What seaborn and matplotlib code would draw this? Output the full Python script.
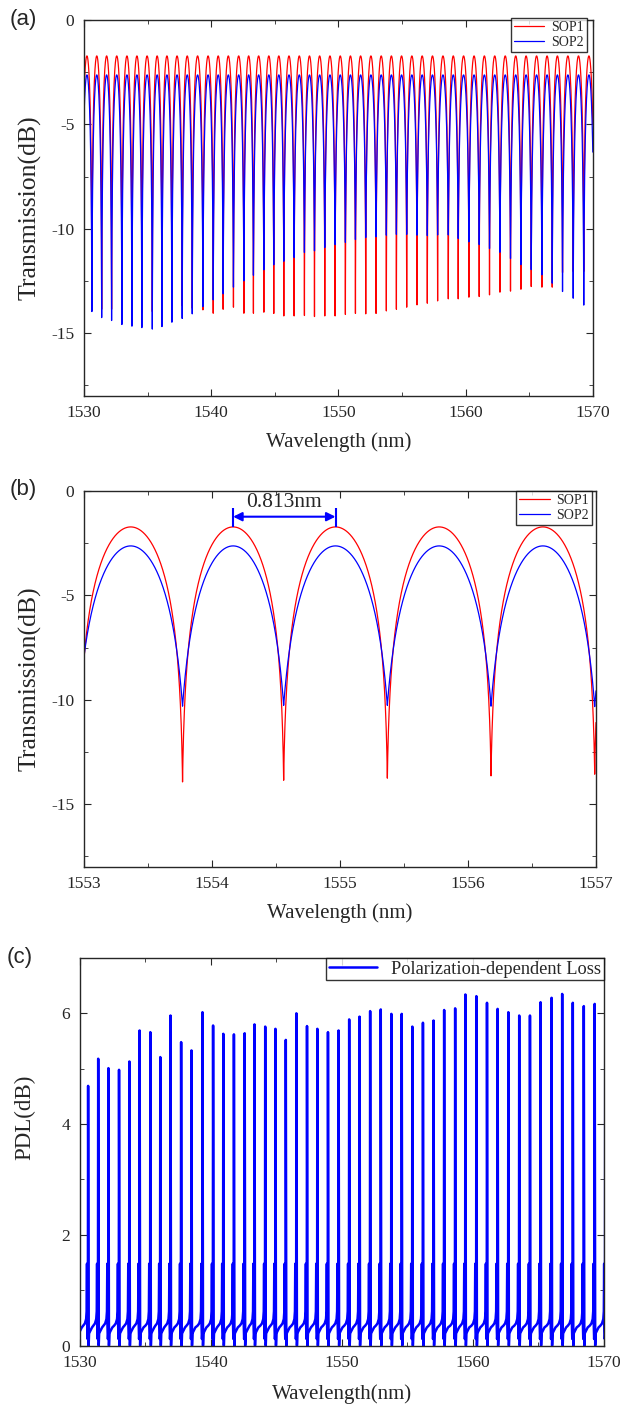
import numpy as np
import pandas as pd
import matplotlib
matplotlib.use('Agg')
import matplotlib.pyplot as plt
import seaborn as sns
from matplotlib.ticker import MultipleLocator

# dip wavelengths (first and last lie just outside the axis)
dip_wl = [1529.84, 1530.62, 1531.39, 1532.17, 1532.98, 1533.77, 1534.55, 1535.37, 1536.13,
          1536.91, 1537.72, 1538.51, 1539.35, 1540.16, 1540.94, 1541.75, 1542.57, 1543.32,
          1544.14, 1544.92, 1545.71, 1546.52, 1547.33, 1548.12, 1548.93, 1549.74, 1550.55,
          1551.34, 1552.15, 1552.96, 1553.77, 1554.56, 1555.37, 1556.18, 1556.99, 1557.80,
          1558.64, 1559.42, 1560.26, 1561.07, 1561.88, 1562.70, 1563.53, 1564.35, 1565.16,
          1566.00, 1566.81, 1567.62, 1568.46, 1569.29, 1570.10]

# depth of every dip (dB)
sop1_dip = [-13.9, -13.89, -13.86, -13.86, -13.89, -14.05, -14.05, -13.97, -13.86, -14.02,
            -13.70, -13.81, -13.89, -14.05, -13.86, -13.76, -14.05, -14.05, -14.00, -14.06,
            -14.18, -14.18, -14.16, -14.21, -14.18, -14.18, -14.11, -14.06, -14.08, -14.06,
            -13.94, -13.86, -13.76, -13.65, -13.57, -13.46, -13.36, -13.36, -13.28, -13.25,
            -13.17, -13.04, -12.99, -12.90, -12.77, -12.80, -12.80, -12.10, -12.05, -12.05,
            -12.0]
sop2_dip = [-13.9, -13.97, -14.26, -14.40, -14.59, -14.67, -14.74, -14.81, -14.69, -14.48,
            -14.30, -14.08, -13.73, -13.41, -13.12, -12.80, -12.50, -12.23, -11.97, -11.73,
            -11.56, -11.38, -11.14, -11.06, -10.90, -10.76, -10.66, -10.52, -10.42, -10.39,
            -10.31, -10.27, -10.27, -10.31, -10.33, -10.30, -10.30, -10.47, -10.63, -10.76,
            -10.95, -11.13, -11.43, -11.72, -11.96, -12.21, -12.61, -13.01, -13.33, -13.66,
            -13.7]
sop1_peak = -1.72
sop2_peak = -2.63

# tall PDL spike at every dip (dB)
pdl_spike = [5.0, 4.69, 5.18, 5.01, 4.98, 5.13, 5.69, 5.66, 5.21, 5.96, 5.48, 5.33, 6.02,
             5.78, 5.63, 5.62, 5.64, 5.80, 5.76, 5.72, 5.52, 6.00, 5.77, 5.72, 5.66, 5.69,
             5.89, 5.94, 6.04, 6.07, 5.99, 5.99, 5.76, 5.83, 5.87, 6.06, 6.09, 6.34, 6.31,
             6.19, 6.08, 6.02, 5.96, 5.96, 6.20, 6.28, 6.35, 6.19, 6.13, 6.17, 6.2]
# PDL trace around one dip: offset from the dip (nm) and level (dB), spike at offset 0
pdl_offset = [-0.38, -0.25, -0.15, -0.11, -0.085, -0.065, -0.04, -0.02, 0.0, 0.04, 0.07, 0.15, 0.30]
pdl_level = [0.36, 0.40, 0.48, 0.62, 1.48, 0.35, 0.12, 0.20, None, 0.0, 0.22, 0.26, 0.33]


def fringe(wl, depths, peak, p):
    d = np.array(dip_wl)
    dep = np.array(depths)
    i = np.clip(np.searchsorted(d, wl) - 1, 0, len(d) - 2)
    x = (wl - d[i]) / (d[i + 1] - d[i])
    depth = np.where(x < 0.5, dep[i], dep[i + 1])
    m = 10 ** ((depth - peak) / 10)
    t = m + (1 - m) * np.abs(np.sin(np.pi * x)) ** p
    return peak + 10 * np.log10(t)


sns.set_style('ticks')
plt.rcParams['font.family'] = ['Liberation Serif', 'DejaVu Serif']
plt.rcParams['axes.unicode_minus'] = False
plt.rcParams['xtick.direction'] = 'in'
plt.rcParams['ytick.direction'] = 'in'
plt.rcParams['axes.linewidth'] = 1.0
plt.rcParams['xtick.major.size'] = 5
plt.rcParams['ytick.major.size'] = 5
plt.rcParams['xtick.minor.size'] = 3
plt.rcParams['ytick.minor.size'] = 3
plt.rcParams['xtick.major.pad'] = 7
plt.rcParams['ytick.major.pad'] = 7
plt.rcParams['xtick.labelsize'] = 12.5
plt.rcParams['ytick.labelsize'] = 12.5

fig = plt.figure(figsize=(6.24, 14.11), dpi=100)
ax_a = fig.add_axes([0.1346, 0.7196, 0.8154, 0.2662])
ax_b = fig.add_axes([0.1346, 0.3858, 0.8205, 0.2662])
ax_c = fig.add_axes([0.1282, 0.0463, 0.8397, 0.2748])

# (a) full band
wl_a = np.linspace(1530, 1570, 40001)
df_a = pd.DataFrame({'wl': wl_a,
                     'SOP1': fringe(wl_a, sop1_dip, sop1_peak, 0.9),
                     'SOP2': fringe(wl_a, sop2_dip, sop2_peak, 1.0)})
sns.lineplot(data=df_a, x='wl', y='SOP1', color='red', lw=0.9, ax=ax_a, label='SOP1', estimator=None)
sns.lineplot(data=df_a, x='wl', y='SOP2', color='blue', lw=0.9, ax=ax_a, label='SOP2', estimator=None)

# (b) zoom
wl_b = np.linspace(1553, 1557, 8001)
df_b = pd.DataFrame({'wl': wl_b,
                     'SOP1': fringe(wl_b, sop1_dip, sop1_peak, 0.9),
                     'SOP2': fringe(wl_b, sop2_dip, sop2_peak, 1.0)})
sns.lineplot(data=df_b, x='wl', y='SOP1', color='red', lw=0.9, ax=ax_b, label='SOP1', estimator=None)
sns.lineplot(data=df_b, x='wl', y='SOP2', color='blue', lw=0.9, ax=ax_b, label='SOP2', estimator=None)

for ax, anchor in ((ax_a, (0.988, 1.005)), (ax_b, (0.992, 1.0))):
    ax.set_ylim(-18, 0)
    ax.yaxis.set_major_locator(MultipleLocator(5))
    ax.yaxis.set_minor_locator(MultipleLocator(2.5))
    ax.set_ylabel('Transmission(dB)', fontsize=18.5)
    ax.yaxis.set_label_coords(-0.083, 0.5)
    ax.set_xlabel('Wavelength (nm)', fontsize=15, labelpad=8)
    leg = ax.legend(loc='upper right', bbox_to_anchor=anchor, fontsize=10, frameon=True,
                    fancybox=False, edgecolor='black', handlelength=2.2, borderpad=0.2,
                    labelspacing=0.15, borderaxespad=0.0, handletextpad=0.5)
    leg.get_frame().set_linewidth(1.0)

ax_a.set_xlim(1530, 1570)
ax_a.xaxis.set_major_locator(MultipleLocator(10))
ax_a.xaxis.set_minor_locator(MultipleLocator(5))
ax_b.set_xlim(1553, 1557)
ax_b.xaxis.set_major_locator(MultipleLocator(1))
ax_b.xaxis.set_minor_locator(MultipleLocator(0.5))

# FSR marker between two neighbouring peaks
pk1 = (dip_wl[30] + dip_wl[31]) / 2
pk2 = (dip_wl[31] + dip_wl[32]) / 2
ax_b.annotate('', xy=(pk1, -1.23), xytext=(pk2, -1.23),
              arrowprops=dict(arrowstyle='<|-|>', color='blue', lw=1.5,
                              shrinkA=0, shrinkB=0, mutation_scale=13))
ax_b.vlines([pk1, pk2], -1.73, -0.82, color='blue', lw=1.5)
ax_b.text((pk1 + pk2) / 2, -0.55, '0.813nm', fontsize=15.5, ha='center', va='center')

# (c) PDL
pdl_x, pdl_y = [], []
for d, h in zip(dip_wl, pdl_spike):
    for off, lev in zip(pdl_offset, pdl_level):
        pdl_x.append(d + off)
        pdl_y.append(h if lev is None else lev)
df_c = pd.DataFrame({'wl': pdl_x, 'PDL': pdl_y})
sns.lineplot(data=df_c, x='wl', y='PDL', color='blue', lw=1.8, ax=ax_c,
             label='Polarization-dependent Loss', estimator=None, sort=False)
ax_c.set_xlim(1530, 1570)
ax_c.set_ylim(0, 7)
ax_c.xaxis.set_major_locator(MultipleLocator(10))
ax_c.xaxis.set_minor_locator(MultipleLocator(5))
ax_c.yaxis.set_major_locator(MultipleLocator(2))
ax_c.yaxis.set_minor_locator(MultipleLocator(1))
ax_c.set_ylabel('PDL(dB)', fontsize=16.5)
ax_c.yaxis.set_label_coords(-0.085, 0.588)
ax_c.set_xlabel('Wavelength(nm)', fontsize=15, labelpad=9)
leg = ax_c.legend(loc='upper right', fontsize=13.2, frameon=True, fancybox=False,
                  edgecolor='black', handlelength=2.6, borderpad=0.15, borderaxespad=0.0)
leg.get_frame().set_linewidth(1.0)

for ax in (ax_a, ax_b, ax_c):
    ax.tick_params(which='both', top=True, right=True)
pos = {'(a)': (23, 20), '(b)': (23, 490), '(c)': (20, 957)}
for lab, (px, py) in pos.items():
    fig.text(px / 624, 1 - py / 1411, lab, fontsize=16,
             family=['Liberation Sans', 'DejaVu Sans'], ha='center', va='center')

fig.savefig('out.png', dpi=100)
